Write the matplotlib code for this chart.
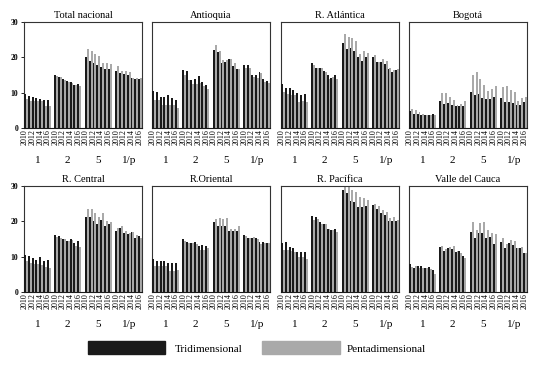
import matplotlib
matplotlib.use("Agg")
import matplotlib.pyplot as plt
from matplotlib.patches import Rectangle
import matplotlib.transforms as mtransforms

plt.rcParams['font.family'] = ['Liberation Serif', 'DejaVu Serif']

regions = ["Total nacional", "Antioquia", "R. Atlántica", "Bogotá",
           "R. Central", "R.Oriental", "R. Pacífica", "Valle del Cauca"]
groups = ["1", "2", "5", "1/p"]
years = [2010, 2011, 2012, 2013, 2014, 2015, 2016]
year_labels = ["2010", "2012", "2014", "2016"]
series_names = ["Tridimensional", "Pentadimensional"]

# values per region: 4 groups x 7 years (2010-2016)
tn_tri = [9.6, 9.1, 8.8, 8.5, 8.2, 7.9, 7.9,
          15.0, 14.5, 14.0, 13.3, 13.0, 12.2, 12.4,
          20.1, 19.0, 18.4, 17.9, 17.3, 16.7, 16.7,
          16.1, 15.6, 15.2, 15.0, 14.1, 14.0, 13.9]
tn_pen = [8.2, 7.6, 7.6, 7.7, 7.6, 6.3, 6.3,
          14.7, 14.3, 13.7, 13.1, 12.7, 12.1, 11.9,
          22.3, 21.8, 20.9, 20.3, 18.4, 18.4, 18.0,
          17.5, 16.0, 16.1, 15.8, 14.2, 14.1, 14.1]

an_tri = [10.4, 10.2, 8.8, 8.8, 9.3, 8.6, 7.9,
          16.3, 16.0, 13.6, 13.8, 14.7, 12.9, 12.3,
          22.2, 21.4, 18.4, 18.7, 19.6, 17.6, 16.8,
          17.8, 17.8, 15.0, 14.9, 15.9, 13.9, 13.3]
an_pen = [8.0, 8.0, 6.5, 6.5, 6.5, 6.5, 5.7,
          15.0, 13.7, 12.5, 12.5, 12.8, 12.0, 11.0,
          23.5, 21.8, 19.2, 19.3, 19.6, 18.3, 16.8,
          17.0, 17.1, 14.3, 14.2, 15.5, 13.0, 12.7]

at_tri = [12.5, 11.3, 11.3, 10.7, 9.9, 9.2, 9.6,
          18.4, 17.1, 17.1, 16.1, 15.0, 14.1, 15.0,
          24.1, 22.3, 22.6, 21.8, 20.2, 18.9, 20.1,
          20.2, 18.7, 18.7, 18.2, 16.7, 15.8, 16.5]
at_pen = [10.1, 9.5, 9.3, 9.3, 7.5, 7.6, 7.3,
          17.8, 17.1, 17.1, 15.8, 13.9, 14.4, 13.9,
          26.6, 25.7, 25.5, 24.7, 20.9, 21.8, 21.2,
          20.7, 18.7, 19.5, 19.0, 17.0, 16.5, 16.7]

bo_tri = [4.7, 4.1, 4.1, 3.8, 3.8, 3.7, 4.0,
          7.6, 6.9, 7.1, 6.4, 6.1, 6.1, 6.3,
          10.2, 9.4, 9.6, 8.5, 8.2, 8.2, 8.8,
          8.5, 7.4, 7.5, 7.0, 6.5, 6.5, 7.3]
bo_pen = [5.4, 5.1, 4.5, 4.1, 3.8, 3.8, 3.7,
          9.9, 9.9, 8.8, 7.8, 6.4, 6.9, 7.6,
          15.0, 15.8, 13.9, 12.2, 10.5, 11.0, 11.9,
          11.6, 11.9, 10.8, 10.1, 7.6, 8.5, 8.9]

ce_tri = [10.5, 10.2, 9.7, 9.1, 9.9, 8.8, 9.1,
          16.1, 15.8, 15.1, 14.5, 15.0, 13.9, 14.4,
          21.2, 21.2, 20.1, 19.3, 20.3, 18.7, 19.2,
          17.3, 18.1, 16.8, 16.3, 16.9, 15.4, 15.9]
ce_pen = [8.8, 8.2, 8.0, 7.9, 7.7, 7.0, 6.9,
          15.7, 15.4, 14.9, 14.4, 14.7, 13.1, 12.7,
          23.5, 23.5, 22.4, 21.2, 22.4, 20.0, 19.8,
          18.0, 18.7, 17.3, 16.8, 16.9, 16.0, 15.4]

or_tri = [9.3, 8.8, 8.8, 8.8, 8.3, 8.2, 8.2,
          15.0, 14.2, 14.0, 14.2, 13.1, 13.3, 12.9,
          19.8, 18.7, 18.7, 18.7, 17.3, 17.3, 17.3,
          16.1, 15.3, 15.3, 15.2, 14.2, 14.1, 13.9]
or_pen = [7.4, 7.4, 7.4, 7.4, 6.0, 6.0, 6.3,
          14.3, 13.9, 13.9, 13.7, 12.0, 12.0, 12.4,
          20.6, 20.9, 20.8, 20.9, 17.8, 17.8, 18.7,
          15.8, 15.3, 15.6, 15.0, 13.5, 13.9, 13.9]

pa_tri = [14.0, 14.2, 12.8, 12.5, 11.4, 11.4, 11.4,
          21.5, 21.2, 19.8, 19.3, 17.8, 17.6, 17.8,
          28.9, 28.0, 25.8, 25.4, 24.1, 24.0, 24.3,
          24.5, 23.6, 22.4, 21.9, 20.2, 20.2, 20.2]
pa_pen = [11.9, 11.9, 11.5, 11.4, 10.0, 9.8, 9.3,
          20.5, 20.7, 19.3, 19.2, 17.8, 17.6, 17.0,
          30.5, 30.3, 28.9, 28.2, 27.0, 26.5, 26.0,
          24.8, 24.2, 23.2, 22.7, 21.0, 21.3, 20.4]

va_tri = [7.9, 6.8, 7.5, 7.5, 6.9, 7.1, 6.2,
          12.7, 11.5, 12.4, 12.3, 11.3, 11.7, 10.2,
          17.0, 15.3, 16.7, 16.7, 15.3, 15.6, 13.7,
          14.2, 12.5, 14.0, 13.3, 12.5, 12.5, 11.0]
va_pen = [7.0, 7.3, 6.8, 6.9, 6.8, 6.4, 5.1,
          13.0, 12.3, 12.6, 13.0, 11.6, 10.9, 9.6,
          19.8, 17.6, 19.5, 19.8, 17.5, 16.8, 16.3,
          15.2, 13.6, 14.7, 14.4, 12.5, 12.7, 11.0]

tri_all = [tn_tri, an_tri, at_tri, bo_tri, ce_tri, or_tri, pa_tri, va_tri]
pen_all = [tn_pen, an_pen, at_pen, bo_pen, ce_pen, or_pen, pa_pen, va_pen]

BLACK = '#1a1a1a'
GRAY = '#a9a9a9'
W, H = 538, 367
fig = plt.figure(figsize=(W / 100, H / 100), dpi=100)

lefts = [24, 152, 281, 409]
width_px = 118
rows = [(22, 128), (186, 292)]

ny = len(years)
slot = ny + 1
for k, name in enumerate(regions):
    r, c = divmod(k, 4)
    top, bot = rows[r]
    ax = fig.add_axes([lefts[c] / W, 1 - bot / H, width_px / W, (bot - top) / H])
    tri = tri_all[k]
    pen = pen_all[k]
    xs = [g * slot + j for g in range(len(groups)) for j in range(ny)]
    ax.bar([x - 0.25 for x in xs], tri, width=0.5, color=BLACK, linewidth=0, zorder=3)
    ax.bar([x + 0.25 for x in xs], pen, width=0.5, color=GRAY, linewidth=0, zorder=2)
    ax.set_xlim(-0.5, len(groups) * slot - 1.5)
    ax.set_ylim(0, 30)
    ticks = [g * slot + j - 0.25 for g in range(len(groups)) for j in range(0, ny, 2)]
    ax.set_xticks(ticks)
    ax.set_xticklabels(year_labels * len(groups), rotation=90, fontsize=5.8)
    ax.tick_params(axis='x', length=0, pad=1)
    if c == 0:
        ax.set_yticks([0, 10, 20, 30])
        ax.tick_params(axis='y', labelsize=5.5, length=2, width=0.6, pad=2)
        for lab in ax.get_yticklabels():
            lab.set_fontweight('bold')
    else:
        ax.set_yticks([])
    for sp in ax.spines.values():
        sp.set_color('#333333')
        sp.set_linewidth(0.8)
    ax.spines['bottom'].set_color(BLACK)
    ax.set_title(name, fontsize=7.5, pad=3)
    trans = mtransforms.blended_transform_factory(ax.transData, ax.transAxes)
    for g, gl in enumerate(groups):
        ax.text(g * slot + (ny - 1) / 2, -0.31, gl, transform=trans,
                ha='center', va='center', fontsize=8)

# legend
fig.patches.append(Rectangle((88 / W, 1 - 354 / H), 77 / W, 13 / H,
                             transform=fig.transFigure, color=BLACK))
fig.text(175 / W, 1 - 349 / H, series_names[0], fontsize=8, va='center')
fig.patches.append(Rectangle((262 / W, 1 - 354 / H), 78 / W, 13 / H,
                             transform=fig.transFigure, color=GRAY))
fig.text(347 / W, 1 - 349 / H, series_names[1], fontsize=8, va='center')

fig.savefig("out.png", dpi=100)
